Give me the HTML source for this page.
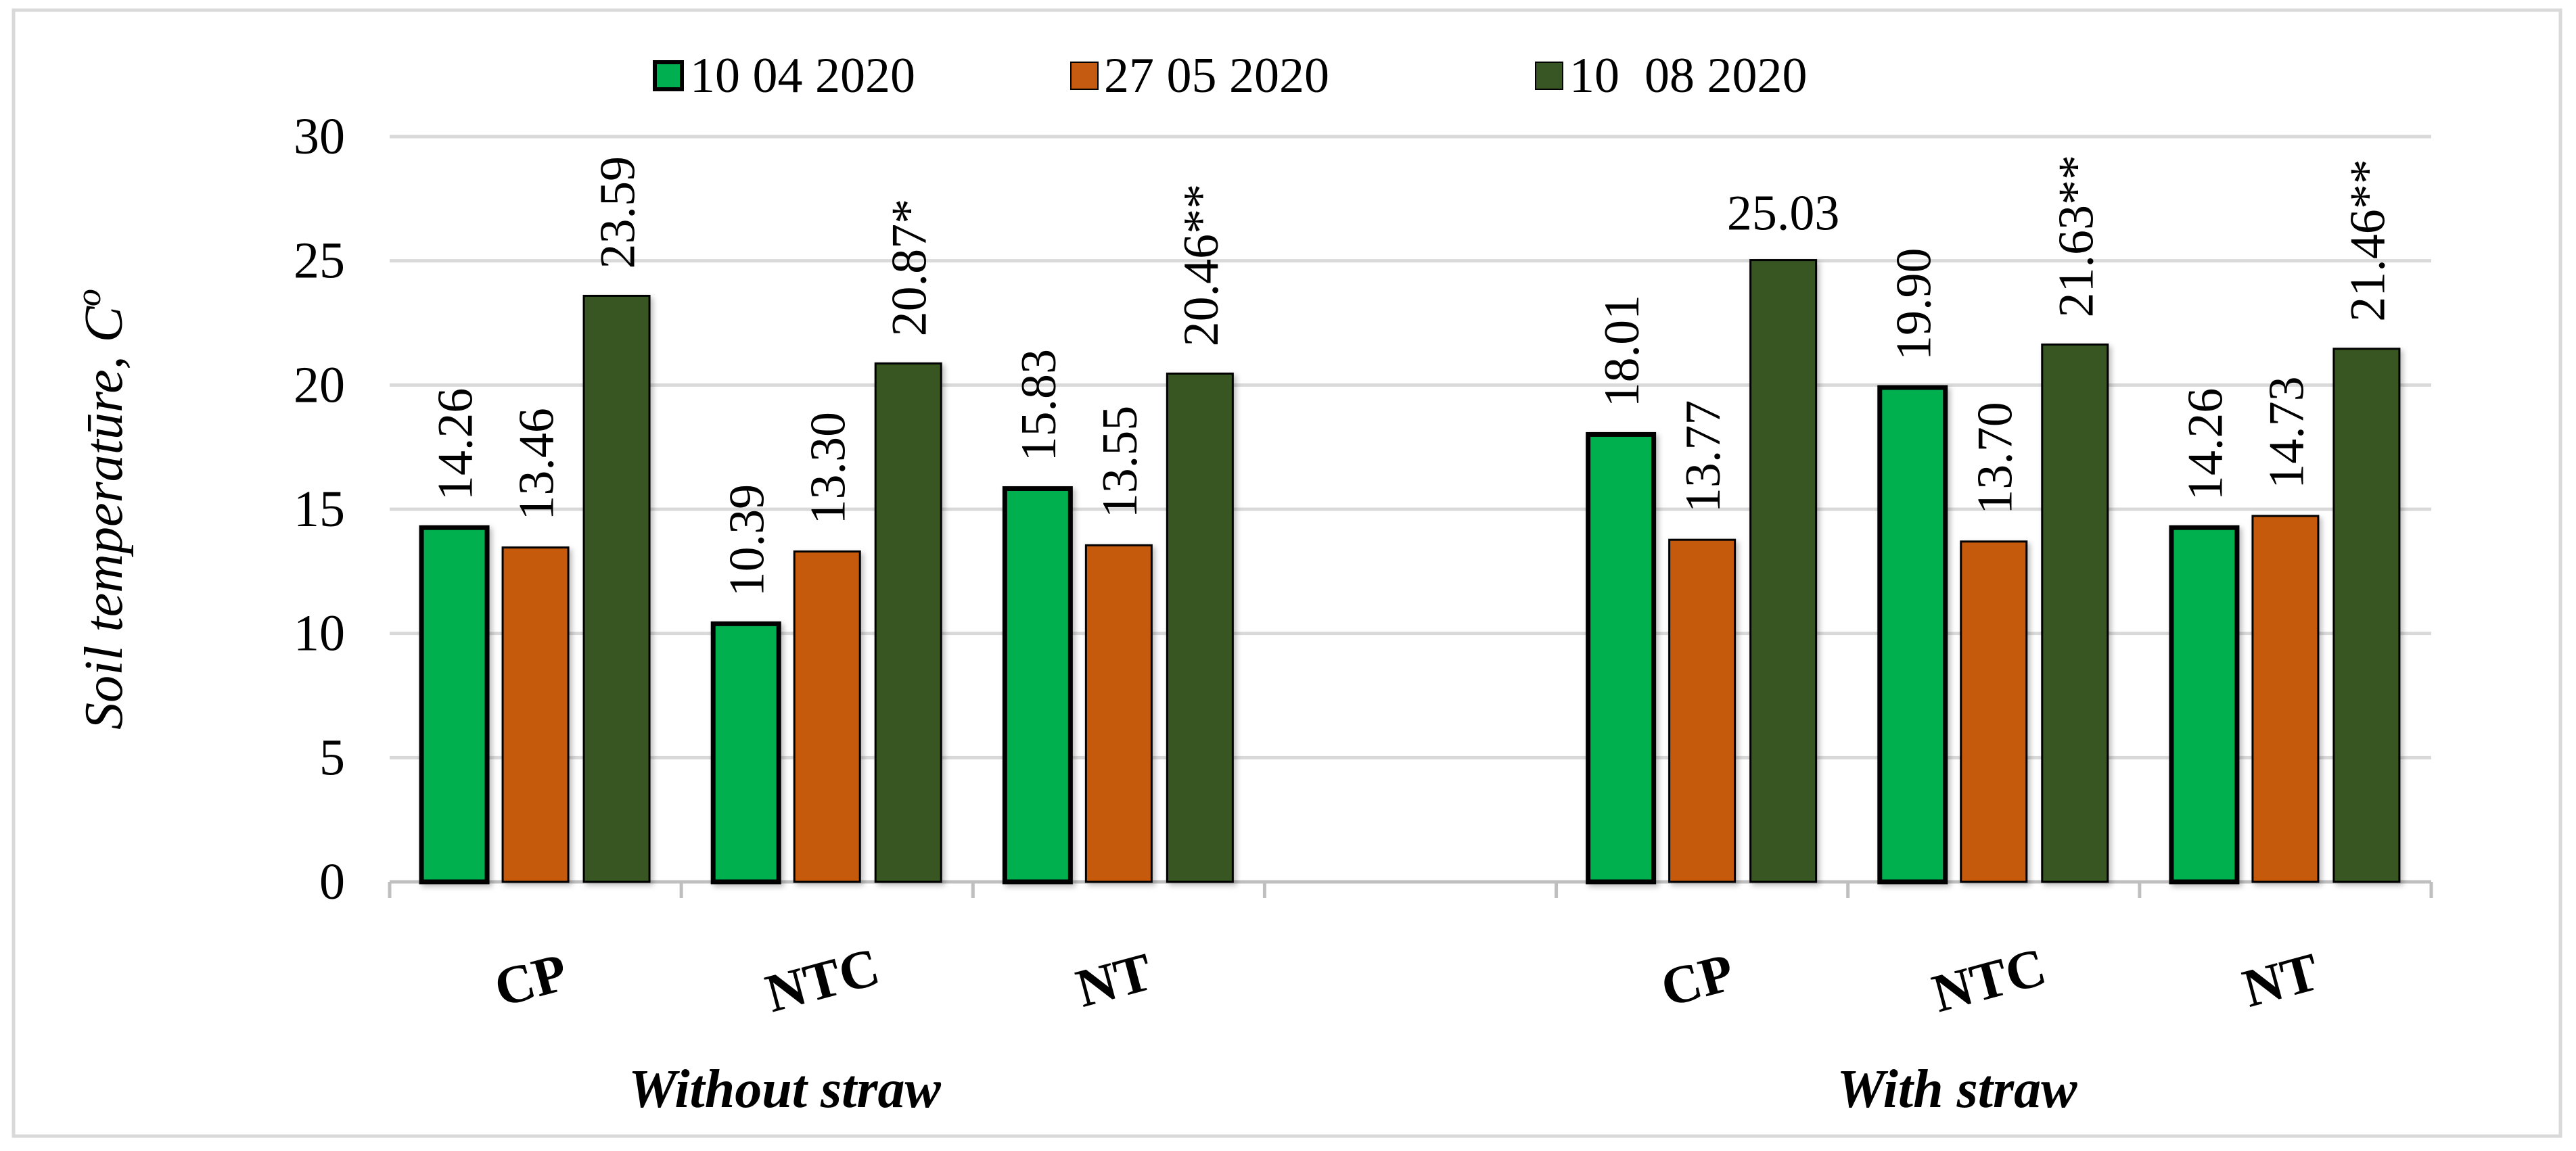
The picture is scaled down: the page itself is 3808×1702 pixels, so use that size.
<!DOCTYPE html>
<html><head><meta charset="utf-8"><style>
html,body{margin:0;padding:0;background:#fff}
svg, svg text{font-family:"Liberation Serif","Times New Roman",serif}
</style></head><body>
<svg id="chart" width="3808" height="1697" viewBox="0 0 3808 1697" xmlns="http://www.w3.org/2000/svg" font-family="Liberation Serif, serif">
<defs><filter id="sh" x="-20%" y="-5%" width="140%" height="110%"><feDropShadow dx="4" dy="4" stdDeviation="4" flood-color="#000" flood-opacity="0.25"/></filter></defs>
<rect x="20" y="15" width="3765" height="1665" fill="#fff" stroke="#d9d9d9" stroke-width="5"/>
<g id="grid"></g><g id="bars"></g><g id="labels"></g>
<text transform="translate(180,753) rotate(-90)" text-anchor="middle" font-size="80" font-style="italic">Soil temperatūre, C<tspan font-size="52" dy="-32">o</tspan></text>
<g font-size="74">
<g><rect x="968" y="92" width="40" height="40" fill="#00B050" stroke="#000" stroke-width="6"/><text x="1020" y="136">10 04 2020</text></g>
<g><rect x="1583" y="92" width="40" height="40" fill="#C55A11" stroke="#000" stroke-width="2"/><text x="1632" y="136">27 05 2020</text></g>
<g><rect x="2270" y="92" width="40" height="40" fill="#375623" stroke="#000" stroke-width="2"/><text x="2320" y="136" xml:space="preserve">10  08 2020</text></g>
</g>
<text x="1160" y="1637" text-anchor="middle" font-size="80" font-weight="bold" font-style="italic">Without straw</text>
<text x="2893" y="1637" text-anchor="middle" font-size="80" font-weight="bold" font-style="italic">With straw</text>
</svg>
<script>
const categories = ["CP","NTC","NT","","CP","NTC","NT"];
const s1 = [14.26,10.39,15.83,null,18.01,19.90,14.26];
const s2 = [13.46,13.30,13.55,null,13.77,13.70,14.73];
const s3 = [23.59,20.87,20.46,null,25.03,21.63,21.46];
const s3Labels = ["23.59","20.87*","20.46**","","25.03","21.63**","21.46**"];
const yTicks = [0,5,10,15,20,25,30];
const colors = ["#00B050","#C55A11","#375623"];
const NS="http://www.w3.org/2000/svg";
const x0=576,x1=3594,y0=1304,yTop=202,ymax=30;
const slot=(x1-x0)/categories.length;
const Y=v=>y0-(v/ymax)*(y0-yTop);
const grid=document.getElementById('grid'),bars=document.getElementById('bars'),labels=document.getElementById('labels');
function mk(tag,attrs,parent){const e=document.createElementNS(NS,tag);for(const k in attrs)e.setAttribute(k,attrs[k]);parent.appendChild(e);return e;}
yTicks.forEach(t=>{
  const g=mk('line',{x1:x0,x2:x1,y1:Y(t),y2:Y(t),stroke:t===0?'#bfbfbf':'#d9d9d9','stroke-width':5},grid);
  
  
  const l=mk('text',{x:510,y:Y(t)+25,'text-anchor':'end','font-size':76},grid);
  l.textContent=t;
  
  
});
for(let i=0;i<=categories.length;i++){
  const tk=mk('line',{x1:x0+i*slot,x2:x0+i*slot,y1:y0,y2:y0+24,stroke:'#bfbfbf','stroke-width':5},grid);
  
  
}
const bw=97,gap=23;
categories.forEach((c,i)=>{
  const cx=x0+(i+0.5)*slot;
  if(c){
    const cl=mk('text',{transform:`translate(${cx},${1475}) rotate(-15)`,'text-anchor':'middle','font-size':80,'font-weight':'bold'},labels);
    cl.textContent=c;
    
    
  }
  [s1,s2,s3].forEach((s,j)=>{
    const v=s[i]; if(v==null)return;
    const bx=cx+(j-1)*(bw+gap)-bw/2;
    const r=mk('rect',{x:bx,y:Y(v),width:bw,height:y0-Y(v),fill:colors[j],stroke:'#000','stroke-width':j===0?7:3,filter:'url(#sh)'},bars);
    
    
    const txt=j===2?s3Labels[i]:v.toFixed(2);
    let t;
    if(j===2&&i===4){
      t=mk('text',{x:bx+bw/2,y:Y(v)-45,'text-anchor':'middle','font-size':74},labels);
    }else{
      t=mk('text',{transform:`translate(${bx+bw/2+26},${Y(v)-40}) rotate(-90)`,'font-size':74},labels);
    }
    t.textContent=txt;
    
    
  });
});
</script>
</body></html>
